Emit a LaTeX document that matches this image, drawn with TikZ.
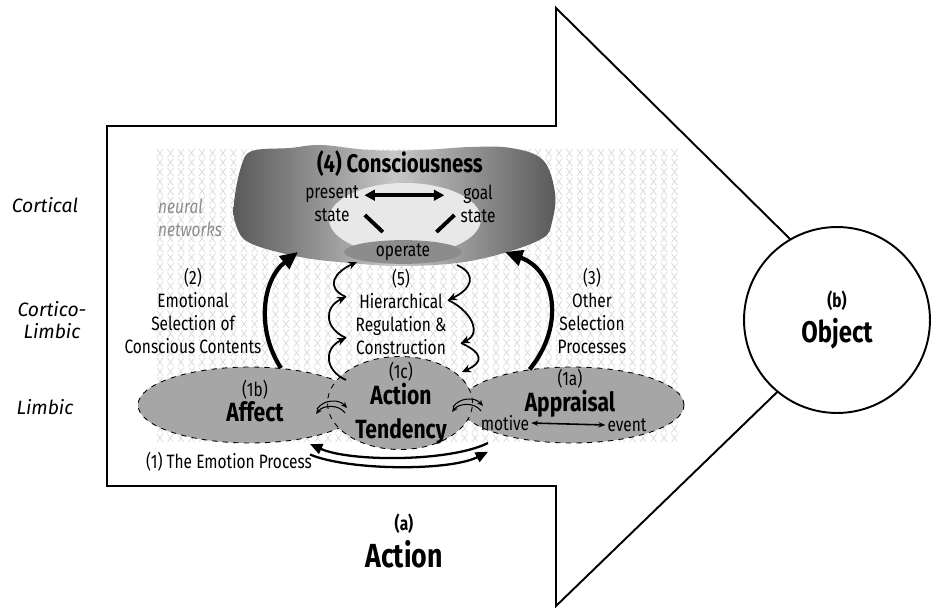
\documentclass[tikz,border=0pt]{standalone}
\usepackage{fontspec}
\setmainfont{Fira Sans}[FakeStretch=0.8]
\newfontfamily\widefont{Fira Sans}
\usetikzlibrary{arrows.meta, positioning, calc, shapes.geometric}

\tikzset{
  lvl/.style={font=\widefont\itshape\fontsize{11}{13}\selectfont, align=center},
  txt/.style={font=\fontsize{11}{13}\selectfont, align=center, inner sep=1pt},
  limb/.style={ellipse, draw, dashed, fill=black!35, inner sep=0pt, line width=0.5pt},
  xmark/.style={black!15, line width=0.4pt},
  thickarr/.style={line width=2.4pt, -{Triangle[length=10pt,width=9pt]}},
  wavearr/.style={line width=1pt, -{Stealth[length=5pt,width=4.5pt]}},
  smallarr/.style={line width=0.6pt, -{Stealth[length=3.5pt,width=3pt]}},
  procarr/.style={line width=1.3pt, -{Triangle[length=7pt,width=6pt]}},
  link/.style={line width=2.2pt},
}

\begin{document}
\begin{tikzpicture}[x=0.02cm, y=-0.02cm]
\useasboundingbox (0,0) rectangle (931,609);
% action arrow
\draw[line width=1.1pt, line join=miter] (107,126) -- (556,126) -- (556,8) -- (862,310)
  -- (556,606) -- (556,486) -- (107,486) -- cycle;
% neural network background
\foreach \i in {0,...,49} \foreach \j in {0,...,30} {
  \draw[xmark] (157+10.5*\i, 149+9.5*\j) -- ++(6,8)
    (163+10.5*\i, 149+9.5*\j) -- ++(-6,8);
}
% consciousness cloud
\shade[left color=black!65, right color=black!65, middle color=black!22]
  plot[smooth cycle, tension=0.6] coordinates {(241,167) (252,151) (290,148) (321,145)
  (370,150) (421,150) (470,147) (511,148) (543,160) (555,193) (552,222) (543,238)
  (504,253) (457,263) (400,266) (350,263) (300,257) (250,243) (236,225) (234,203)};
\fill[black!9] (405,219) ellipse [x radius=76, y radius=36];

\node[font=\bfseries\fontsize{14.5}{16}\selectfont] (cons) at (400,164) {(4) Consciousness};
\node[txt] (present) at (332,204) {present\\state};
\node[txt] (goal) at (478,204) {goal\\state};
\node[ellipse, fill=black!45, minimum width=2.36cm, minimum height=0.46cm, inner sep=0pt,
  font=\fontsize{11}{13}\selectfont] (operate) at (403,252) {operate};
\draw[line width=2pt, {Triangle[length=6pt,width=6pt]}-{Triangle[length=6pt,width=6pt]},
  shorten <=2pt, shorten >=8pt] ([yshift=5pt]present.east) -- ([yshift=5pt]goal.west);
\draw[link] ([shift={(4,11)}]present.east) -- ++(18,17);
\draw[link] ([shift={(-4,11)}]goal.west) -- ++(-18,17);
\node[font=\itshape\fontsize{11}{13}\selectfont, text=black!45, align=left, anchor=west]
  (neural) at (152,218) {neural\\networks};

% levels
\node[lvl] (cortical) at (45,205) {Cortical};
\node[lvl] (corlim) at (52,320) {Cortico-\\Limbic};
\node[lvl] (limbic) at (45,407) {Limbic};

% selection texts
\node[txt] (emosel) at (193,311) {(2)\\Emotional\\Selection of\\Conscious Contents};
\node[txt] (hier) at (401,312) {(5)\\Hierarchical\\Regulation \&\\Construction};
\node[txt] (other) at (592,311) {(3)\\Other\\Selection\\Processes};

% limbic processes
\node[limb, minimum width=4.48cm, minimum height=1.52cm] (affect) at (250,405) {};
\node[limb, minimum width=4.48cm, minimum height=1.52cm] (appraisal) at (572,405) {};
\node[limb, minimum width=2.9cm, minimum height=1.86cm] (tendency) at (400,403) {};
\node[align=center] (affect-t) at (255,401)
  {\fontsize{11}{13}\selectfont(1b)\\\bfseries\fontsize{15}{17}\selectfont Affect};
\node[align=center, font=\bfseries\fontsize{15}{19}\selectfont] (tendency-t) at (401,403)
  {{\mdseries\fontsize{11}{13}\selectfont(1c)}\\[-4pt]Action\\Tendency};
\node[align=center] (appraisal-t) at (570,393)
  {\fontsize{11}{13}\selectfont(1a)\\\bfseries\fontsize{15}{17}\selectfont Appraisal};
\node[txt] (motive) at (505,423) {motive};
\node[txt] (event) at (627,425) {event};
\draw[line width=0.9pt, {Stealth[length=4pt]}-{Stealth[length=4pt]}] (motive.east) -- (event.west);

% exchanges between processes
\coordinate (swl) at (332,406);
\coordinate (swr) at (468,404);
\foreach \s in {swl, swr} {
  \draw[smallarr] ($(\s)+(-15,3)$) .. controls +(7,-10) and +(-8,-9) .. ($(\s)+(15,2)$);
  \draw[smallarr] ($(\s)+(13,7)$) .. controls +(-6,-9) and +(7,-9) .. ($(\s)+(-16,8)$);
}

% emotion process cycle
\coordinate (epr) at (488,443);
\coordinate (epl) at (310,444);
\draw[procarr] (epr) .. controls (450,462) and (350,462) .. (epl);
\draw[procarr] ([yshift=-6pt]epl) .. controls (350,471) and (450,471) .. ([yshift=-5pt]epr);
\node[txt] (emoproc) at (229,462) {(1) The Emotion Process};

% selection into consciousness
\coordinate (consl) at (298,252);
\coordinate (consr) at (505,252);
\draw[thickarr] (affect.50) .. controls (256,330) and (262,280) .. (consl);
\draw[thickarr] (appraisal.140) .. controls (566,325) and (555,270) .. (consr);

% hierarchical regulation
\coordinate (wl0) at (346,380);
\coordinate (wl1) at (346,338);
\coordinate (wl2) at (346,297);
\coordinate (wl3) at (357,262);
\coordinate (wr0) at (457,265);
\coordinate (wr1) at (448,300);
\coordinate (wr2) at (461,343);
\coordinate (wr3) at (462,372);
\foreach \a/\b in {wl0/wl1, wl1/wl2, wl2/wl3}
  \draw[wavearr] (\a) .. controls +(-22,-10) and +(-22,10) .. (\b);
\foreach \a/\b in {wr0/wr1, wr1/wr2, wr2/wr3}
  \draw[wavearr] (\a) .. controls +(22,10) and +(22,-10) .. (\b);

% object
\node[circle, draw, fill=white, line width=1.1pt, minimum size=3.72cm, align=center] (object) at (837,320)
  {\bfseries\fontsize{11}{13}\selectfont (b)\\[3pt]\bfseries\fontsize{17}{19}\selectfont Object};
\node[align=center] (action) at (404,541)
  {\bfseries\fontsize{11}{13}\selectfont (a)\\[3pt]\bfseries\fontsize{19}{21}\selectfont Action};
\end{tikzpicture}
\end{document}
